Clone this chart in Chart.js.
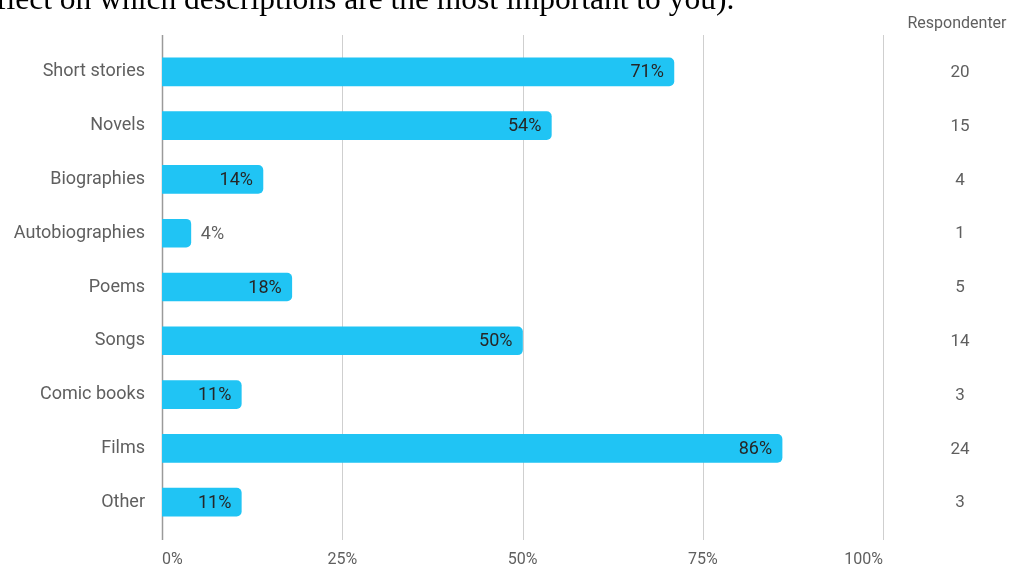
<!DOCTYPE html>
<html>
<head>
<meta charset="utf-8">
<script src="https://cdn.jsdelivr.net/npm/chart.js@4/dist/chart.umd.min.js"></script>
<style>
  html, body { margin: 0; padding: 0; background: #fff; overflow: hidden; }
</style>
</head>
<body>
<canvas id="chart" width="1034" height="566"></canvas>
<script>
const categories = ["Short stories", "Novels", "Biographies", "Autobiographies", "Poems", "Songs", "Comic books", "Films", "Other"];
const percents = [71, 54, 14, 4, 18, 50, 11, 86, 11];
const respondents = [20, 15, 4, 1, 5, 14, 3, 24, 3];
const xTicks = [0, 25, 50, 75, 100];
const countHeader = "Respondenter";
const leadText = "flect on which descriptions are the most important to you).";

const FONT = "Roboto, 'Noto Sans', sans-serif";

// vertical grid lines, drawn a bit past the plot area on both ends
const gridPlugin = {
  id: "grid",
  beforeDatasetsDraw(chart) {
    const { ctx, chartArea, scales } = chart;
    ctx.save();
    xTicks.forEach((t, i) => {
      const x = Math.round(scales.x.getPixelForValue(t)) + 0.5;
      ctx.beginPath();
      ctx.strokeStyle = i === 0 ? "#9a9a9a" : "#cfcfcf";
      ctx.lineWidth = i === 0 ? 1.5 : 1;
      ctx.moveTo(x, chartArea.top - 10);
      ctx.lineTo(x, chartArea.bottom + 11);
      ctx.stroke();
    });
    ctx.restore();
  }
};

// percent labels at bar ends, respondent column, and the text line above
const labelPlugin = {
  id: "labels",
  afterDatasetsDraw(chart) {
    const { ctx, chartArea, scales } = chart;
    const bars = chart.getDatasetMeta(0).data;
    ctx.save();
    ctx.font = "18px " + FONT;
    ctx.textBaseline = "middle";
    bars.forEach((bar, i) => {
      const txt = percents[i] + "%";
      const w = ctx.measureText(txt).width;
      if (bar.x - bar.base > w + 16) {
        ctx.fillStyle = "#262626";
        ctx.textAlign = "right";
        ctx.fillText(txt, bar.x - 10, bar.y + 1);
      } else {
        ctx.fillStyle = "#5f5f5f";
        ctx.textAlign = "left";
        ctx.fillText(txt, bar.x + 10, bar.y + 1);
      }
    });

    const cx = chartArea.right + 77;
    ctx.textAlign = "center";
    ctx.fillStyle = "#5f5f5f";
    ctx.font = "17px " + FONT;
    respondents.forEach((n, i) => {
      ctx.fillText(String(n), cx, scales.y.getPixelForValue(i) + 1);
    });
    ctx.font = "16px " + FONT;
    ctx.fillText(countHeader, cx - 3, 24);

    ctx.font = "31.5px 'Liberation Serif', 'Times New Roman', serif";
    ctx.fillStyle = "#000";
    ctx.textAlign = "left";
    ctx.textBaseline = "alphabetic";
    ctx.fillText(leadText, -4, 9);
    ctx.restore();
  }
};

new Chart(document.getElementById("chart"), {
  type: "bar",
  data: {
    labels: categories,
    datasets: [{
      data: percents,
      backgroundColor: "#20c4f4",
      borderRadius: 5,
      borderSkipped: "start",
      barThickness: 28
    }]
  },
  options: {
    indexAxis: "y",
    responsive: false,
    animation: false,
    events: [],
    layout: { padding: { top: 45, right: 151, left: 0, bottom: 0 } },
    plugins: { legend: { display: false }, tooltip: { enabled: false } },
    scales: {
      x: {
        min: 0,
        max: 100,
        afterBuildTicks(scale) { scale.ticks = xTicks.map(v => ({ value: v })); },
        afterFit(scale) { scale.height = 37; },
        grid: { display: false },
        border: { display: false },
        ticks: {
          align: "inner",
          padding: 13,
          color: "#5f5f5f",
          font: { family: FONT, size: 16 },
          callback: v => v + "%"
        }
      },
      y: {
        afterFit(scale) { scale.width = 162; },
        grid: { display: false, drawTicks: false },
        border: { display: false },
        ticks: {
          padding: 17,
          color: "#5f5f5f",
          font: { family: FONT, size: 18 }
        }
      }
    }
  },
  plugins: [gridPlugin, labelPlugin]
});
</script>
</body>
</html>
